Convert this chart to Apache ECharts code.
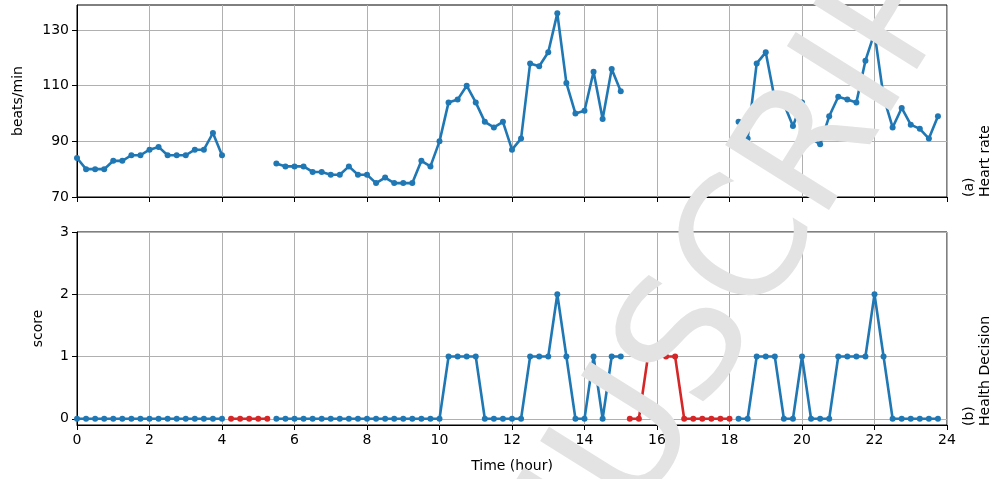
<!DOCTYPE html>
<html>
<head>
<meta charset="utf-8">
<script src="https://cdn.jsdelivr.net/npm/echarts@6/dist/echarts.min.js"></script>
<style>
  html, body { margin: 0; padding: 0; background: #fff; }
  #chart { width: 990px; height: 479px; }
</style>
</head>
<body>
<div id="chart"></div>
<script>
// samples every 15 minutes, 0:00 .. 23:45
let hours = [];
for (let i = 0; i < 96; i++) hours.push(i / 4);

// heart rate (beats/min), null = no reading
let heartRate = [
  84, 80, 80, 80, 83, 83, 85, 85, 87, 88, 85, 85, 85, 87, 87, 93, 85,
  null, null, null, null, null,
  82, 81, 81, 81, 79, 79, 78, 78, 81, 78, 78, 75, 77, 75, 75, 75, 83, 81, 90,
  104, 105, 110, 104, 97, 95, 97, 87, 91, 118, 117, 122, 136, 111, 100, 101, 115, 98, 116, 108,
  null, null, null, null, null, null, null, null, null, null, null, null,
  97, 91, 118, 122, 105, 103.5, 95.5, 104, 91, 89, 99, 106, 105, 104, 119, 129, 106, 95, 102, 96, 94.5, 91, 99
];

// health decision score
let score = [
  0, 0, 0, 0, 0, 0, 0, 0, 0, 0, 0, 0, 0, 0, 0, 0, 0,
  0, 0, 0, 0, 0,
  0, 0, 0, 0, 0, 0, 0, 0, 0, 0, 0, 0, 0, 0, 0, 0, 0, 0, 0,
  1, 1, 1, 1, 0, 0, 0, 0, 0, 1, 1, 1, 2, 1, 0, 0, 1, 0, 1, 1,
  0, 0, 1, 1, 1, 1, 0, 0, 0, 0, 0, 0,
  0, 0, 1, 1, 1, 0, 0, 1, 0, 0, 0, 1, 1, 1, 1, 2, 1, 0, 0, 0, 0, 0, 0
];

let hrTicks = [70, 90, 110, 130];
let scoreTicks = [0, 1, 2, 3];

let blue = '#1f77b4';
let red = '#d62728';
let font = 'DejaVu Sans';

// score is red where the heart rate is missing
let hrData = hours.map((h, i) => [h, heartRate[i] == null ? '-' : heartRate[i]]);
let scoreBlue = hours.map((h, i) => [h, heartRate[i] == null ? '-' : score[i]]);
let scoreRed = hours.map((h, i) => [h, heartRate[i] == null ? score[i] : '-']);

function xAxisFor(idx, showLabels) {
  return {
    type: 'value', gridIndex: idx, min: 0, max: 24, interval: 2,
    name: showLabels ? 'Time (hour)' : '',
    nameLocation: 'middle', nameGap: 34,
    nameTextStyle: { color: '#000', fontSize: 14, fontFamily: font },
    axisLine: { show: true, onZero: false, lineStyle: { color: '#000', width: 1 } },
    axisTick: { show: true, length: 5, lineStyle: { color: '#000' } },
    axisLabel: { show: showLabels, color: '#000', fontSize: 14, fontFamily: font, margin: 8 },
    splitLine: { show: true, lineStyle: { color: '#b0b0b0', width: 1 } }
  };
}

function yAxisFor(idx, opts) {
  return Object.assign({
    type: 'value', gridIndex: idx,
    nameLocation: 'middle', nameRotate: 90,
    nameTextStyle: { color: '#000', fontSize: 14, fontFamily: font },
    axisLine: { show: true, lineStyle: { color: '#000', width: 1 } },
    splitLine: { show: true, lineStyle: { color: '#b0b0b0', width: 1 } }
  }, opts);
}

function lineSeries(x, y, data, color) {
  return {
    type: 'line', xAxisIndex: x, yAxisIndex: y, data: data,
    symbol: 'circle', symbolSize: 6, showSymbol: true, connectNulls: false,
    itemStyle: { color: color }, lineStyle: { color: color, width: 2.6 },
    emphasis: { disabled: true }
  };
}

let myChart = echarts.init(document.getElementById('chart'));
let option = {
  animation: false,
  backgroundColor: '#fff',
  grid: [
    { left: 77, right: 43, top: 5, height: 192, show: true, borderColor: '#000', borderWidth: 1 },
    { left: 77, right: 43, top: 232, height: 193, show: true, borderColor: '#000', borderWidth: 1 }
  ],
  xAxis: [xAxisFor(0, false), xAxisFor(1, true)],
  yAxis: [
    yAxisFor(0, {
      min: 70, max: 139, interval: 20, name: 'beats/min', nameGap: 52,
      axisTick: { show: true, length: 5, lineStyle: { color: '#000' }, customValues: hrTicks },
      axisLabel: { color: '#000', fontSize: 14, fontFamily: font, margin: 8, customValues: hrTicks }
    }),
    yAxisFor(1, {
      min: -0.1, max: 3, splitNumber: 3, name: 'score', nameGap: 32,
      axisTick: { show: true, length: 5, lineStyle: { color: '#000' }, customValues: scoreTicks },
      axisLabel: { color: '#000', fontSize: 14, fontFamily: font, margin: 8, customValues: scoreTicks }
    })
  ],
  series: [
    lineSeries(0, 0, hrData, blue),
    lineSeries(1, 1, scoreBlue, blue),
    lineSeries(1, 1, scoreRed, red)
  ],
  graphic: [
    {
      type: 'text', x: 961, y: 197, rotation: Math.PI / 2,
      style: { text: '(a)\nHeart rate', font: '14px "DejaVu Sans"', fill: '#000',
               textAlign: 'left', textVerticalAlign: 'top', lineHeight: 16 }
    },
    {
      type: 'text', x: 961, y: 426, rotation: Math.PI / 2,
      style: { text: '(b)\nHealth Decision', font: '14px "DejaVu Sans"', fill: '#000',
               textAlign: 'left', textVerticalAlign: 'top', lineHeight: 16 }
    },
    {
      // watermark over the plot
      type: 'text', x: 395, y: 822, rotation: 58 * Math.PI / 180, z: 100,
      style: { text: 'MANUSCRIPT', font: '168px "DejaVu Sans"', fill: '#e3e3e3',
               textAlign: 'left', textVerticalAlign: 'middle' }
    }
  ]
};
myChart.setOption(option);
</script>
</body>
</html>
